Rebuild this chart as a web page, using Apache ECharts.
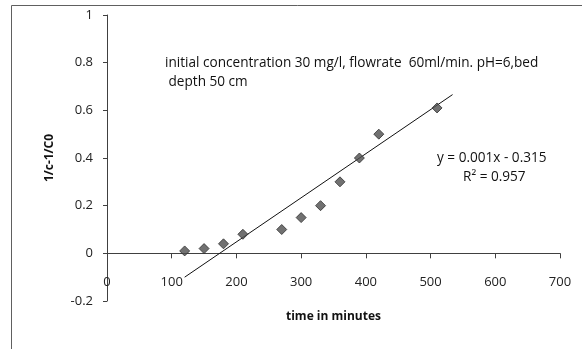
<!DOCTYPE html>
<html>
<head>
<meta charset="utf-8">
<script src="https://cdn.jsdelivr.net/npm/echarts@6/dist/echarts.min.js"></script>
<style>html,body{margin:0;padding:0;background:#fff;}#c{width:582px;height:349px;}</style>
</head>
<body>
<div id="c"></div>
<script>
const timeMin = [120, 150, 180, 210, 270, 300, 330, 360, 390, 420, 510];
const invC = [0.01, 0.02, 0.04, 0.08, 0.10, 0.15, 0.20, 0.30, 0.40, 0.50, 0.61];
const trendX = [120, 534];
const trendY = [-0.10, 0.666];
const xTicks = [0, 100, 200, 300, 400, 500, 600, 700];
const yTicks = [-0.2, 0, 0.2, 0.4, 0.6, 0.8, 1];
const noteLine1 = 'initial concentration 30 mg/l, flowrate  60ml/min. pH=6,bed';
const noteLine2 = ' depth 50 cm';
const eqText = 'y = 0.001x - 0.315';
const r2Text = 'R\u00B2 = 0.957';

const font = '"Open Sans", "Liberation Sans", Arial, sans-serif';
const chart = echarts.init(document.getElementById('c'), null, {renderer: 'canvas'});
chart.setOption({
  animation: false,
  backgroundColor: '#ffffff',
  grid: {left: 107, right: 22, top: 15, bottom: 48, containLabel: false, outerBoundsMode: 'none'},
  xAxis: {
    type: 'value', min: 0, max: 700, interval: 100,
    axisLine: {show: true, onZero: true, lineStyle: {color: '#404040', width: 1}},
    axisTick: {show: true, inside: false, length: 5, lineStyle: {color: '#404040'}},
    axisLabel: {margin: -25, fontSize: 13, color: '#222', fontFamily: font,
      formatter: v => xTicks.includes(v) ? String(v) : ''},
    splitLine: {show: false},
    name: 'time in minutes', nameLocation: 'middle', nameGap: 10,
    nameTextStyle: {fontSize: 12, fontWeight: 'bold', color: '#111', fontFamily: font}
  },
  yAxis: {
    type: 'value', min: -0.2, max: 1, interval: 0.2,
    axisLine: {show: true, onZero: false, lineStyle: {color: '#404040', width: 1}},
    axisTick: {show: true, inside: false, length: 4, lineStyle: {color: '#404040'}},
    axisLabel: {margin: 14, fontSize: 13, color: '#222', fontFamily: font,
      formatter: v => { const t = yTicks.find(k => Math.abs(k - v) < 1e-9); return t === undefined ? '' : String(t); }},
    splitLine: {show: false},
    name: '1/c-1/C0', nameLocation: 'middle', nameGap: 51,
    nameTextStyle: {fontSize: 12, fontWeight: 'bold', color: '#111', fontFamily: font}
  },
  series: [
    {
      type: 'line', data: trendX.map((x, i) => [x, trendY[i]]),
      showSymbol: false, symbol: 'none',
      lineStyle: {color: '#111', width: 1}, z: 2, silent: true
    },
    {
      type: 'scatter', data: timeMin.map((x, i) => [x, invC[i]]),
      symbol: 'diamond', symbolSize: 10,
      itemStyle: {color: '#4d4d4d', borderColor: '#303030', borderWidth: 1}, z: 3
    }
  ],
  graphic: [
    {type: 'rect', x: 11.5, y: 5.5, silent: true,
      shape: {x: 0, y: 0, width: 620, height: 400},
      style: {fill: 'none', stroke: '#606060', lineWidth: 1}},
    {type: 'text', x: 165, y: 63, style: {text: noteLine1, font: '13.6px ' + font, fill: '#111', verticalAlign: 'middle'}},
    {type: 'text', x: 165, y: 82, style: {text: noteLine2, font: '13.6px ' + font, fill: '#111', verticalAlign: 'middle'}},
    {type: 'text', x: 437, y: 158, style: {text: eqText, font: '13.6px ' + font, fill: '#111', verticalAlign: 'middle'}},
    {type: 'text', x: 463, y: 177, style: {text: r2Text, font: '13.6px ' + font, fill: '#111', verticalAlign: 'middle'}}
  ]
});
</script>
</body>
</html>
